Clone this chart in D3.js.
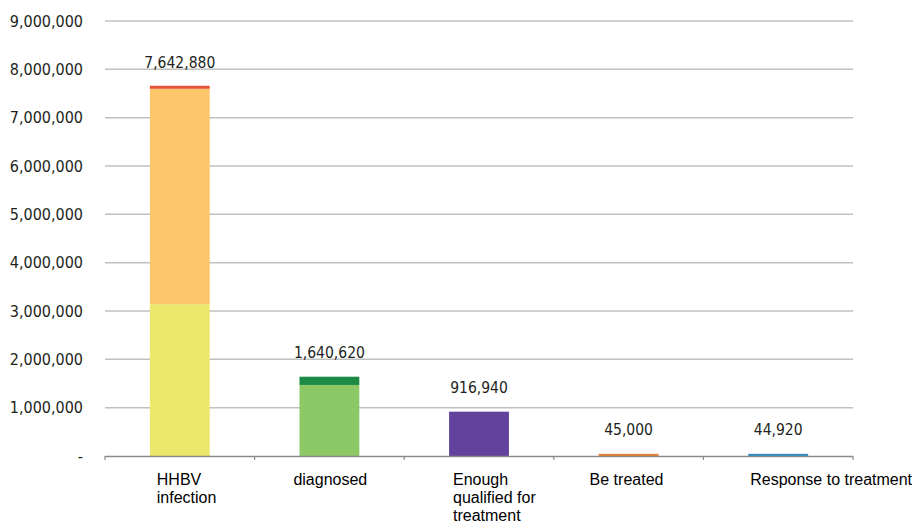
<!DOCTYPE html>
<html>
<head>
<meta charset="utf-8">
<script src="https://cdn.jsdelivr.net/npm/d3@7"></script>
<style>
  body { margin: 0; background: #fff; }
  svg { display: block; }
</style>
</head>
<body>
<svg id="chart" width="914" height="523"></svg>
<script>
// categories along the x axis (lines of each label)
var categories = ["HHBV infection", "diagnosed", "Enough qualified for treatment", "Be treated", "Response to treatment"];
var labelLines = [["HHBV", "infection"], ["diagnosed"], ["Enough", "qualified for", "treatment"], ["Be treated"], ["Response to treatment"]];
// totals shown above each bar
var totals = [7642880, 1640620, 916940, 45000, 44920];
// stacked segments per bar, bottom to top
var segments = [
  [3140000, 4460000, 60000],
  [1470000, 170620],
  [916940],
  [45000],
  [44920]
];
var segmentColors = [
  ["#ece86b", "#fec76b", "#e5533b"],
  ["#8cc866", "#1d8a45"],
  ["#62429d"],
  ["#e87f33"],
  ["#2b8dc6"]
];
var yTicks = [0, 1000000, 2000000, 3000000, 4000000, 5000000, 6000000, 7000000, 8000000, 9000000];

var svg = d3.select("#chart");
var margin = {left: 105, right: 61, top: 21, bottom: 67};
var W = 914, H = 523;

var x = d3.scaleBand()
  .domain(categories)
  .range([margin.left, W - margin.right])
  .paddingInner(0.6)
  .paddingOuter(0.3);

var band = d3.scaleBand()
  .domain(categories)
  .range([margin.left, W - margin.right]);

var y = d3.scaleLinear()
  .domain([0, 9000000])
  .range([H - margin.bottom, margin.top]);

var fmt = d3.format(",");
var numFont = "DejaVu Sans Condensed, DejaVu Sans, sans-serif";

// gridlines
svg.append("g")
  .selectAll("line")
  .data(yTicks.slice(1))
  .enter()
  .append("line")
  .attr("x1", margin.left)
  .attr("x2", W - margin.right)
  .attr("y1", function (d) { return y(d); })
  .attr("y2", function (d) { return y(d); })
  .attr("stroke", "#c0c0c0")
  .attr("stroke-width", 1.5);

// y tick labels
svg.append("g")
  .selectAll("text")
  .data(yTicks)
  .enter()
  .append("text")
  .attr("x", 83)
  .attr("y", function (d) { return y(d); })
  .attr("dy", "0.35em")
  .attr("text-anchor", "end")
  .attr("font-family", numFont)
  .attr("font-size", 16)
  .attr("fill", "#231f20")
  .text(function (d) { return d === 0 ? "-" : fmt(d); });

// stacked bars
categories.forEach(function (c, i) {
  var base = 0;
  segments[i].forEach(function (v, j) {
    svg.append("rect")
      .attr("x", x(c))
      .attr("width", x.bandwidth())
      .attr("y", y(base + v))
      .attr("height", Math.max(y(base) - y(base + v), 3))
      .attr("fill", segmentColors[i][j]);
    base += v;
  });
});

// baseline with category ticks
var axis = svg.append("g");
axis.append("line")
  .attr("x1", margin.left)
  .attr("x2", W - margin.right)
  .attr("y1", y(0) + 0.5)
  .attr("y2", y(0) + 0.5)
  .attr("stroke", "#8c8c8c")
  .attr("stroke-width", 1.5);
axis.selectAll("line.tick")
  .data(categories.concat(["end"]))
  .enter()
  .append("line")
  .attr("class", "tick")
  .attr("x1", function (d, i) { return margin.left + i * band.bandwidth(); })
  .attr("x2", function (d, i) { return margin.left + i * band.bandwidth(); })
  .attr("y1", y(0))
  .attr("y2", y(0) + 4)
  .attr("stroke", "#8c8c8c")
  .attr("stroke-width", 1.2);

// value labels
svg.append("g")
  .selectAll("text")
  .data(totals)
  .enter()
  .append("text")
  .attr("x", function (d, i) { return x(categories[i]) + x.bandwidth() / 2; })
  .attr("y", function (d) { return y(d) - 19; })
  .attr("text-anchor", "middle")
  .attr("font-family", numFont)
  .attr("font-size", 15.5)
  .attr("fill", "#231f20")
  .text(function (d) { return fmt(d); });

// category labels (left aligned, shifted like the original)
var labelShift = [-23, -36, -26, -39, -28];
categories.forEach(function (c, i) {
  var t = svg.append("text")
    .attr("x", band(c) + band.bandwidth() / 2 + labelShift[i])
    .attr("y", 485)
    .attr("font-family", "Liberation Sans, Arial, sans-serif")
    .attr("font-size", 16)
    .attr("fill", "#000");
  labelLines[i].forEach(function (line, k) {
    t.append("tspan")
      .attr("x", band(c) + band.bandwidth() / 2 + labelShift[i])
      .attr("dy", k === 0 ? 0 : 18)
      .text(line);
  });
});
</script>
</body>
</html>
